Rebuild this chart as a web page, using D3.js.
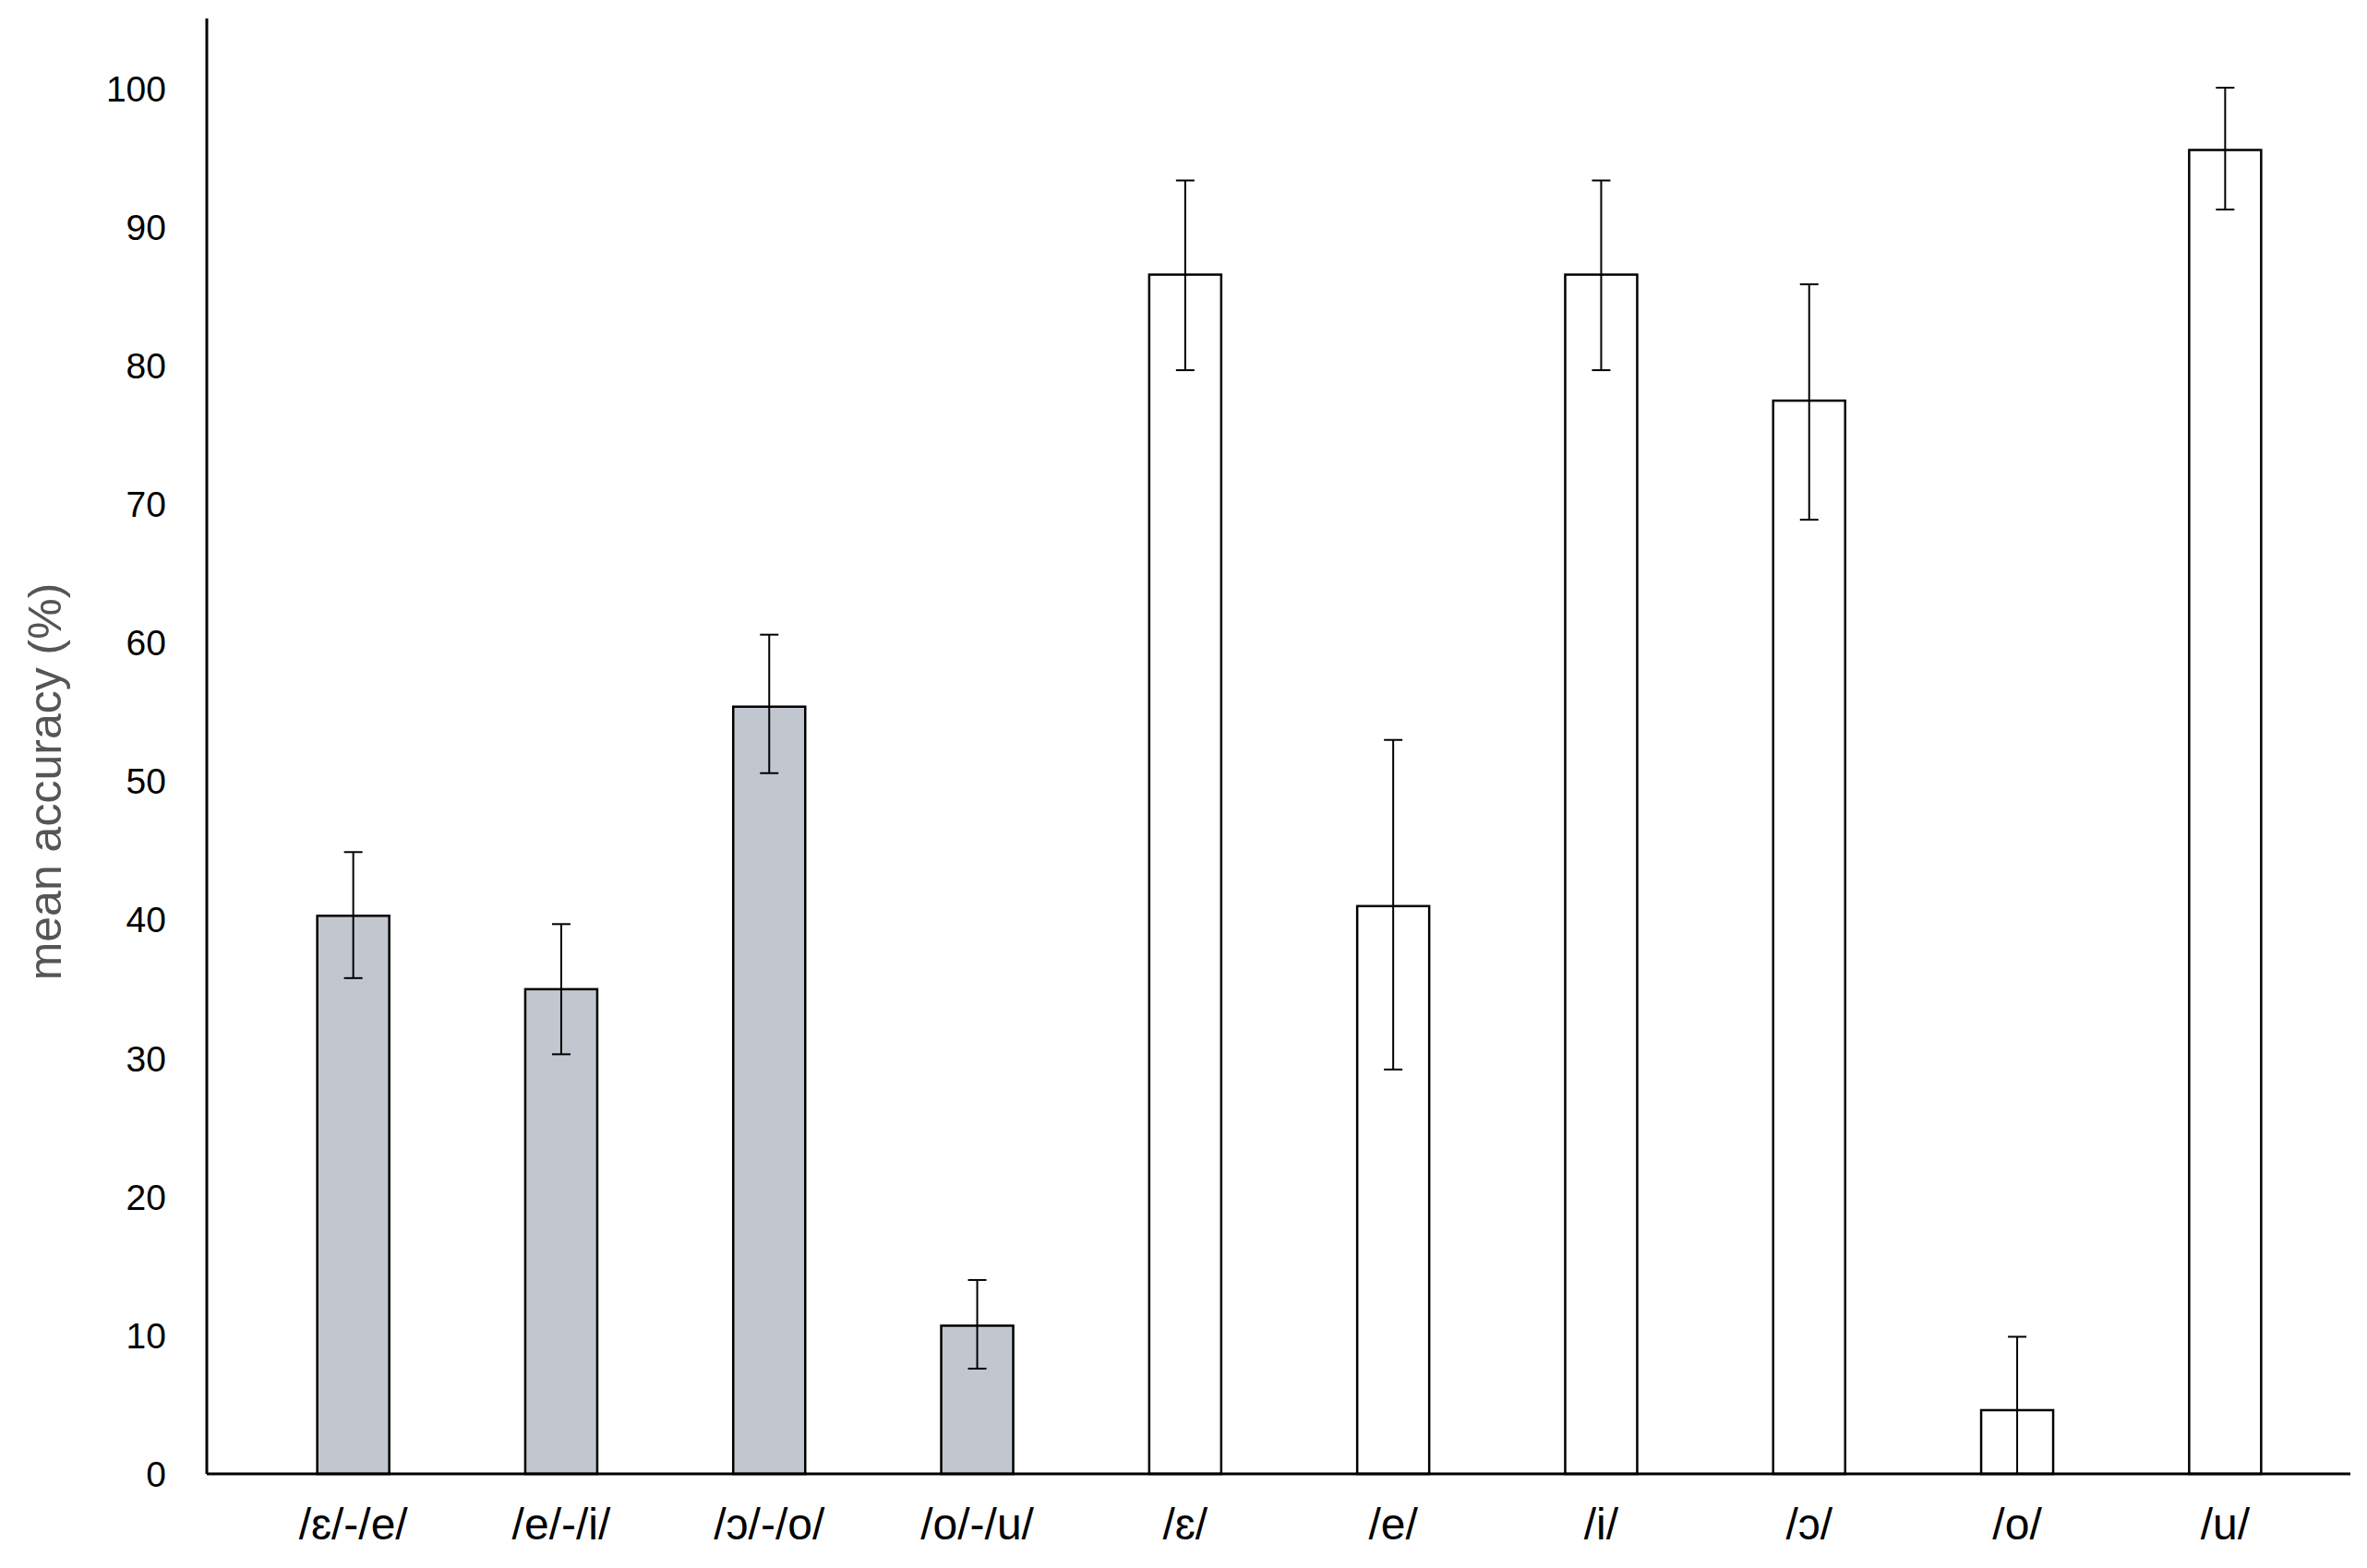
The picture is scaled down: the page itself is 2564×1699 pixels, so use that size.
<!DOCTYPE html>
<html><head><meta charset="utf-8">
<script src="https://cdn.jsdelivr.net/npm/d3@7"></script>
<style>body{margin:0;background:#fff}</style></head>
<body><svg id="c" width="2564" height="1699"></svg>
<script>
const categories=["/ɛ/-/e/","/e/-/i/","/ɔ/-/o/","/o/-/u/","/ɛ/","/e/","/i/","/ɔ/","/o/","/u/"];
const values=[40.3,35.0,55.4,10.7,86.6,41.0,86.6,77.5,4.6,95.6];
const errHigh=[44.9,39.7,60.6,14.0,93.4,53.0,93.4,85.9,9.9,100.1];
const errLow=[35.8,30.3,50.6,7.6,79.7,29.2,79.7,68.9,0,91.3];
const fills=["#c1c6cf","#c1c6cf","#c1c6cf","#c1c6cf","#fff","#fff","#fff","#fff","#fff","#fff"];
const yTicks=[0,10,20,30,40,50,60,70,80,90,100];
const svg=d3.select("#c");
const x=d3.scaleBand().domain(categories).range([270,2523]);
const y=d3.scaleLinear().domain([0,100]).range([1597,96.5]);
const bw=78;
const g=svg.append("g");
categories.forEach((c,i)=>{
  const cx=x(c)+x.bandwidth()/2;
  g.append("rect").attr("x",cx-bw/2).attr("y",y(values[i])).attr("width",bw).attr("height",y(0)-y(values[i]))
   .attr("fill",fills[i]).attr("stroke","#000").attr("stroke-width",2.5);
  g.append("line").attr("x1",cx).attr("x2",cx).attr("y1",y(errLow[i])).attr("y2",y(errHigh[i])).attr("stroke","#000").attr("stroke-width",2);
  [errLow[i],errHigh[i]].forEach(v=>g.append("line").attr("x1",cx-10).attr("x2",cx+10).attr("y1",y(v)).attr("y2",y(v)).attr("stroke","#000").attr("stroke-width",2));
  g.append("text").attr("x",cx).attr("y",1668).attr("text-anchor","middle").attr("font-family","Liberation Sans, Arial").attr("font-size",48).text(c);
});
svg.append("line").attr("x1",224).attr("x2",224).attr("y1",20).attr("y2",1597).attr("stroke","#000").attr("stroke-width",3);
svg.append("line").attr("x1",224).attr("x2",2546).attr("y1",1597).attr("y2",1597).attr("stroke","#000").attr("stroke-width",3);
yTicks.forEach(t=>svg.append("text").attr("x",180).attr("y",y(t)).attr("dy","0.35em").attr("text-anchor","end")
  .attr("font-family","Liberation Sans, Arial").attr("font-size",39).text(t));
svg.append("text").attr("transform","translate(66,847) rotate(-90)").attr("text-anchor","middle")
  .attr("font-family","Liberation Sans, Arial").attr("font-size",50).attr("fill","#555").text("mean accuracy (%)");
</script></body></html>
